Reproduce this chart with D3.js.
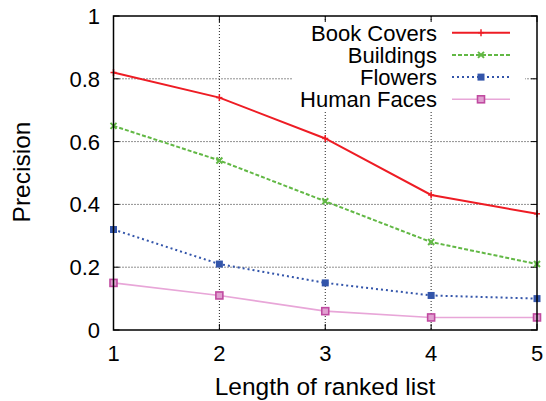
<!DOCTYPE html>
<html><head><meta charset="utf-8">
<script src="https://cdn.jsdelivr.net/npm/d3@7"></script>
<style>body{margin:0;background:#fff}svg{display:block}text{font-family:"Liberation Sans",Arial,sans-serif;fill:#000}</style>
</head><body><svg id="c" width="546" height="401"></svg>
<script>
const xValues = [1, 2, 3, 4, 5];
const yTicks = [0, 0.2, 0.4, 0.6, 0.8, 1];
const yTickLabels = ["0", "0.2", "0.4", "0.6", "0.8", "1"];
const seriesNames = ["Book Covers", "Buildings", "Flowers", "Human Faces"];
const bookCovers = [0.82, 0.74, 0.61, 0.43, 0.37];
const buildings = [0.65, 0.54, 0.41, 0.28, 0.21];
const flowers = [0.32, 0.21, 0.15, 0.11, 0.10];
const humanFaces = [0.15, 0.11, 0.06, 0.04, 0.04];

const styles = [
  {line:"#ee1c24", dash:null, w:2, marker:"plus", mc:"#ee1c24"},
  {line:"#62b845", dash:"4,2", w:2, marker:"x", mc:"#62b845"},
  {line:"#3355aa", dash:"2,3", w:2, marker:"sq", mc:"#3355aa"},
  {line:"#e8a6d8", dash:null, w:1.6, marker:"osq", mc:"#c04aa0"}
];
const series = [bookCovers, buildings, flowers, humanFaces].map((v,i)=>({name:seriesNames[i], values:v, s:styles[i]}));

const L=113.5, R=537, T=16, B=330;
const svg = d3.select("#c");
const x = d3.scaleLinear().domain([1,5]).range([L,R]);
const y = d3.scaleLinear().domain([0,1]).range([B,T]);

// grid
const g = svg.append("g");
g.selectAll(".gy").data(yTicks.slice(1,-1)).join("line")
  .attr("x1",L).attr("x2",R).attr("y1",d=>y(d)).attr("y2",d=>y(d))
  .attr("stroke","#222").attr("stroke-width",1).attr("stroke-dasharray","1,2");
g.selectAll(".gx").data(xValues.slice(1,-1)).join("line")
  .attr("x1",d=>x(d)).attr("x2",d=>x(d)).attr("y1",T).attr("y2",B)
  .attr("stroke","#222").attr("stroke-width",1).attr("stroke-dasharray","1,2");

// legend background box
svg.append("rect").attr("x",293).attr("y",22).attr("width",232).attr("height",89).attr("fill","#fff");

// ticks (inward, mirrored)
const tk = svg.append("g").attr("stroke","#000").attr("stroke-width",1);
yTicks.forEach(t=>{
  tk.append("line").attr("x1",L).attr("x2",L+6).attr("y1",y(t)).attr("y2",y(t));
  tk.append("line").attr("x1",R).attr("x2",R-6).attr("y1",y(t)).attr("y2",y(t));
});
xValues.forEach(t=>{
  tk.append("line").attr("x1",x(t)).attr("x2",x(t)).attr("y1",B).attr("y2",B-6);
  tk.append("line").attr("x1",x(t)).attr("x2",x(t)).attr("y1",T).attr("y2",T+6);
});

// tick labels
svg.append("g").selectAll("text").data(yTicks).join("text")
  .attr("x",100).attr("y",d=>y(d)+8).attr("text-anchor","end").attr("font-size",22)
  .text((d,i)=>yTickLabels[i]);
svg.append("g").selectAll("text").data(xValues).join("text")
  .attr("x",d=>x(d)).attr("y",361).attr("text-anchor","middle").attr("font-size",22)
  .text(d=>d);

// axis titles
svg.append("text").attr("x",325).attr("y",395).attr("text-anchor","middle").attr("font-size",24.5).text("Length of ranked list");
svg.append("text").attr("transform","translate(30,172) rotate(-90)").attr("text-anchor","middle").attr("font-size",24.5).text("Precision");

function drawMarker(sel, type, c, cx, cy){
  if(type==="plus"){
    sel.append("line").attr("x1",cx-3).attr("x2",cx+3).attr("y1",cy).attr("y2",cy).attr("stroke",c).attr("stroke-width",1.5);
    sel.append("line").attr("x1",cx).attr("x2",cx).attr("y1",cy-3.5).attr("y2",cy+3.5).attr("stroke",c).attr("stroke-width",1.5);
  } else if(type==="x"){
    sel.append("path").attr("d",`M${cx-3},${cy-3}L${cx+3},${cy+3}M${cx-3},${cy+3}L${cx+3},${cy-3}`).attr("stroke",c).attr("stroke-width",2);
  } else if(type==="sq"){
    sel.append("rect").attr("x",cx-3.5).attr("y",cy-3.5).attr("width",7).attr("height",7).attr("fill",c);
  } else {
    sel.append("rect").attr("x",cx-3.5).attr("y",cy-3.5).attr("width",7).attr("height",7).attr("fill","#e0a0d0").attr("stroke",c).attr("stroke-width",1.6);
  }
}

const line = d3.line().x((d,i)=>x(xValues[i])).y(d=>y(d));
const plot = svg.append("g");
series.slice().reverse().forEach(s=>{
  plot.append("path").attr("d",line(s.values)).attr("fill","none")
    .attr("stroke",s.s.line).attr("stroke-width",s.s.w)
    .attr("stroke-dasharray",s.s.dash);
  s.values.forEach((v,i)=>drawMarker(plot,s.s.marker,s.s.mc,x(xValues[i]),y(v)));
});

// legend
const lg = svg.append("g");
series.forEach((s,i)=>{
  const cy = 32.7 + i*22.2;
  lg.append("text").attr("x",437).attr("y",cy+7.8).attr("text-anchor","end").attr("font-size",22).text(s.name);
  lg.append("line").attr("x1",452).attr("x2",510).attr("y1",cy).attr("y2",cy)
    .attr("stroke",s.s.line).attr("stroke-width",s.s.w).attr("stroke-dasharray",s.s.dash);
  drawMarker(lg,s.s.marker,s.s.mc,481,cy);
});

// frame
svg.append("rect").attr("x",L).attr("y",T).attr("width",R-L).attr("height",B-T)
  .attr("fill","none").attr("stroke","#000").attr("stroke-width",1.5);
</script></body></html>
